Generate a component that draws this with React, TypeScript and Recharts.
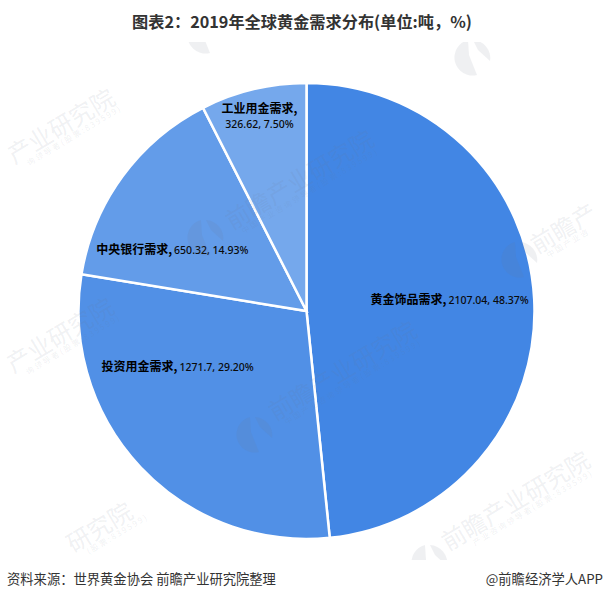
import { PieChart, Pie, Cell } from 'recharts'

const categories = ['黄金饰品需求', '投资用金需求', '中央银行需求', '工业用金需求']
const values = [2107.04, 1271.7, 650.32, 326.62]
const percents = ['48.37%', '29.20%', '14.93%', '7.50%']
const valueLabels = ['2107.04', '1271.7', '650.32', '326.62']

const COLORS = ['#4286e4', '#5190e6', '#639ce9', '#75a8ec']
const CJK = '"Noto Sans CJK SC", sans-serif'
const LATIN = '"Noto Sans", sans-serif'
const WM_COLOR = 'rgba(110,120,140,0.11)'

// label offset from the slice centroid, by hand
const LABEL_SHIFT = [
  { x: 2, y: -3 },
  { x: -26, y: -40 },
  { x: -20, y: 23 },
  { x: -14, y: -57 },
]

// only the part of each watermark that shows inside the band is written out
const WATERMARKS = [
  { x: 9, y: 156, text: '产业研究院', sub: '询领导者(股票:839599)', subX: 12 },
  { x: 227, y: 222, text: '前瞻产业研究院', sub: '中国产业咨询领导者(股票:839599)', subX: 8 },
  { x: 532, y: 246, text: '前瞻产', sub: '中国产业咨', subX: 8 },
  { x: 8, y: 365, text: '产业研究院', sub: '询领导者(股票:839599)', subX: 12 },
  { x: 68, y: 545, text: '研究院', sub: '(股票:839599)', subX: 13 },
  { x: 270, y: 413, text: '前瞻产业研究院', sub: '中国产业咨询领导者(股票:839599)', subX: 8 },
  { x: 443, y: 543, text: '前瞻产业研究院', sub: '产业咨询领导者(股票:839599)', subX: 26 },
]
const WM_LOGOS = [
  { x: 205, y: 36 },
  { x: 472, y: 58 },
  { x: 205, y: 238 },
  { x: 519, y: 260 },
  { x: 254, y: 435 },
  { x: 429, y: 563 },
]

const data = categories.map((name, i) => ({ name, value: values[i] }))

function renderLabel(props: any) {
  const { cx, cy, midAngle, outerRadius, index } = props
  const rad = (midAngle * Math.PI) / 180
  const r = outerRadius * 0.62
  const x = cx + r * Math.cos(rad) + LABEL_SHIFT[index].x
  const y = cy - r * Math.sin(rad) + LABEL_SHIFT[index].y
  const twoLines = index === 3

  if (twoLines) {
    return (
      <text x={x} y={y} textAnchor="middle" fill="#000">
        <tspan x={x} dy={-4} fontFamily={CJK} fontWeight={700} fontSize={12}>{categories[index]},</tspan>
        <tspan x={x} dy={15} fontFamily={LATIN} fontWeight={500} fontSize={10.5} fill="#0a0a0a">{valueLabels[index]}, {percents[index]}</tspan>
      </text>
    )
  }
  return (
    <text x={x} y={y} textAnchor="middle" dominantBaseline="middle" fill="#000">
      <tspan fontFamily={CJK} fontWeight={700} fontSize={12}>{categories[index]},</tspan>
      <tspan fontFamily={LATIN} fontWeight={500} fontSize={10.5} fill="#0a0a0a" dx={2}>{valueLabels[index]}, {percents[index]}</tspan>
    </text>
  )
}

export default function App() {
  return (
    <div style={{ position: 'absolute', left: 0, top: 0, width: 604, height: 600, background: '#fff', overflow: 'hidden' }}>
      <div style={{ position: 'absolute', left: 0, top: 10, width: 604, textAlign: 'center', fontFamily: CJK, fontWeight: 700, fontSize: 16.2, color: '#333', lineHeight: '22px', whiteSpace: 'nowrap' }}>
        图表2：2019年全球黄金需求分布(单位:吨，%)
      </div>

      <div style={{ position: 'absolute', left: 0, top: 0 }}>
        <PieChart width={604} height={600} margin={{ top: 0, right: 0, bottom: 0, left: 0 }}>
          <Pie
            data={data}
            dataKey="value"
            cx={306.5}
            cy={311}
            innerRadius={0}
            outerRadius={228}
            startAngle={90}
            endAngle={-270}
            stroke="#fff"
            strokeWidth={2.5}
            label={renderLabel}
            labelLine={false}
            isAnimationActive={false}
          >
            {data.map((entry, index) => (
              <Cell key={`cell-${index}`} fill={COLORS[index]} />
            ))}
          </Pie>
        </PieChart>
      </div>

      {/* watermark band */}
      <div style={{ position: 'absolute', left: 0, top: 42, width: 604, height: 518, overflow: 'hidden', pointerEvents: 'none' }}>
        {WM_LOGOS.map((l, i) => (
          <svg key={i} width={38} height={38} viewBox="-19 -19 38 38" style={{ position: 'absolute', left: l.x - 19, top: l.y - 42 - 19 }}>
            <path d="M -4 -18 A 18 18 0 1 0 5 17 L -3 -3 Z" fill={WM_COLOR} />
            <path d="M 1 -18 A 18 18 0 0 1 18 3 L 6 -8 Z" fill={WM_COLOR} />
          </svg>
        ))}
        {WATERMARKS.map((w, i) => (
          <div
            key={i}
            style={{
              position: 'absolute',
              left: w.x,
              top: w.y - 42 - 14,
              display: 'flex',
              flexDirection: 'column',
              fontFamily: CJK,
              whiteSpace: 'nowrap',
              color: WM_COLOR,
              transform: 'rotate(-31deg)',
              transformOrigin: '0 14px',
            }}
          >
            <div style={{ height: 28, lineHeight: '28px', fontSize: 24, fontWeight: 400 }}>{w.text}</div>
            <div style={{ marginLeft: w.subX, marginTop: -3, fontSize: 8, lineHeight: '10px', letterSpacing: 1.8 }}>
              {w.sub}
            </div>
          </div>
        ))}
      </div>

      <div style={{ position: 'absolute', left: 7, top: 570, fontFamily: CJK, fontSize: 13.3, color: '#333', lineHeight: '18px', whiteSpace: 'nowrap' }}>
        资料来源：世界黄金协会 前瞻产业研究院整理
      </div>
      <div style={{ position: 'absolute', right: 1, top: 570, fontFamily: CJK, fontSize: 13.3, color: '#333', lineHeight: '18px', whiteSpace: 'nowrap' }}>
        @前瞻经济学人APP
      </div>
    </div>
  )
}
